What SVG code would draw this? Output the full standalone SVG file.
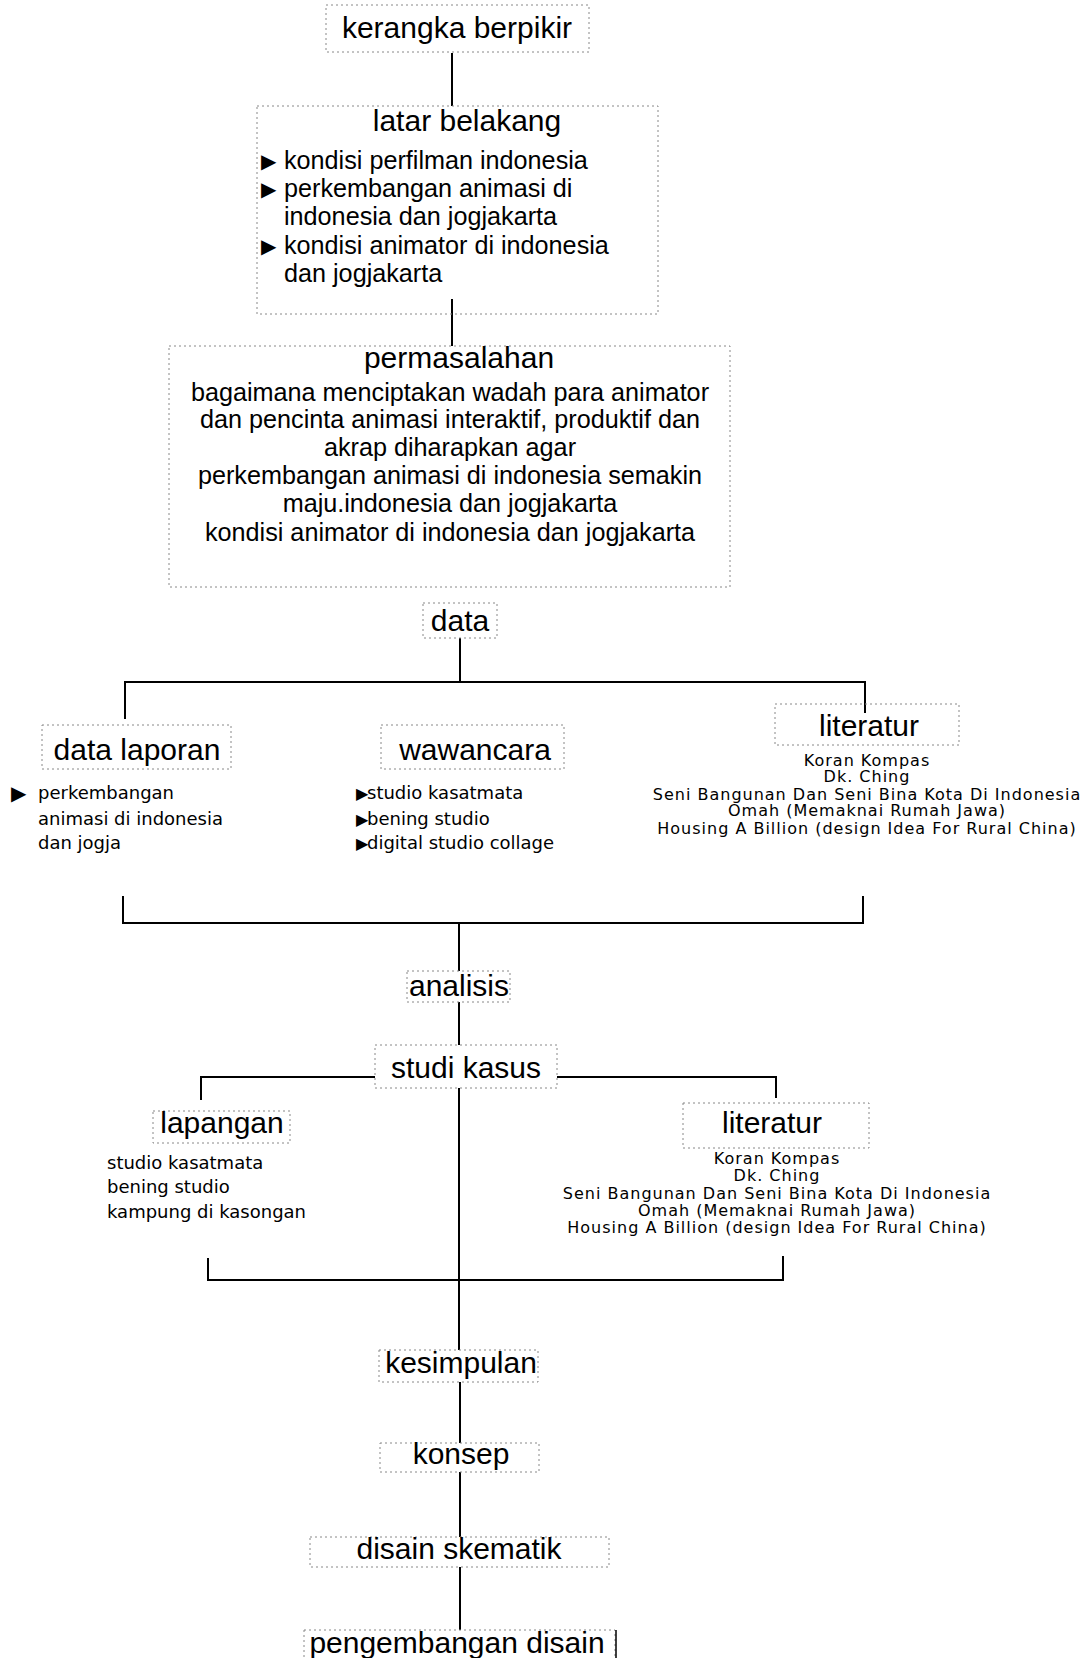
<svg xmlns="http://www.w3.org/2000/svg" width="1088" height="1658" viewBox="0 0 1088 1658">
<style>
.box{fill:none;stroke:#888;stroke-width:1;stroke-dasharray:2 3}
.h{font-family:"Liberation Sans",Arial,sans-serif;font-size:30px;fill:#000}
.b{font-family:"Liberation Sans",Arial,sans-serif;font-size:25.2px;fill:#000}
.bul{font-family:"DejaVu Sans",sans-serif;fill:#000}
.s{font-family:"DejaVu Sans",sans-serif;font-size:18px;fill:#000}
.lit{font-family:"DejaVu Sans",sans-serif;font-size:16px;letter-spacing:1px;fill:#000;text-anchor:middle}
.c{text-anchor:middle}
.con{fill:none;stroke:#000;stroke-width:2}
</style>
<rect width="1088" height="1658" fill="#fff"/>
<g id="connectors" class="con">
<path d="M452 53V106"/>
<path d="M452 299V346"/>
<path d="M460 638V682"/>
<path d="M125 719V682H865V713"/>
<path d="M123 896V923H863V896"/>
<path d="M459 923V971"/>
<path d="M459 1002V1045"/>
<path d="M201 1100V1077H375"/>
<path d="M557 1077H776V1098"/>
<path d="M459 1088V1350"/>
<path d="M208 1258V1280H783V1256"/>
<path d="M460 1382V1443"/>
<path d="M460 1472V1537"/>
<path d="M460 1567V1630"/>
</g>
<g id="kerangka">
<rect class="box" x="326" y="5" width="263" height="47"/>
<text class="h c" x="457" y="38">kerangka berpikir</text>
</g>
<g id="latar">
<rect class="box" x="257" y="106" width="401" height="208"/>
<text class="h c" x="467" y="131">latar belakang</text>
<text class="bul" x="261" y="168" font-size="20">▶</text>
<text class="bul" x="261" y="196" font-size="20">▶</text>
<text class="bul" x="261" y="253" font-size="20">▶</text>
<text class="b" x="284" y="169">kondisi perfilman indonesia</text>
<text class="b" x="284" y="197">perkembangan animasi di</text>
<text class="b" x="284" y="225">indonesia dan jogjakarta</text>
<text class="b" x="284" y="254">kondisi animator di indonesia</text>
<text class="b" x="284" y="282">dan jogjakarta</text>
</g>
<g id="permasalahan">
<rect class="box" x="169" y="346" width="561" height="241"/>
<text class="h c" x="459" y="368">permasalahan</text>
<text class="b c" x="450" y="401">bagaimana menciptakan wadah para animator</text>
<text class="b c" x="450" y="428">dan pencinta animasi interaktif, produktif dan</text>
<text class="b c" x="450" y="456">akrap diharapkan agar</text>
<text class="b c" x="450" y="484">perkembangan animasi di indonesia semakin</text>
<text class="b c" x="450" y="512">maju.indonesia dan jogjakarta</text>
<text class="b c" x="450" y="541">kondisi animator di indonesia dan jogjakarta</text>
</g>
<g id="data">
<rect class="box" x="423" y="603" width="74" height="35"/>
<text class="h c" x="460" y="631">data</text>
</g>
<g id="data-laporan">
<rect class="box" x="42" y="725" width="189" height="44"/>
<text class="h c" x="137" y="760">data laporan</text>
<text class="bul" x="11" y="800" font-size="20">▶</text>
<text class="s" x="38" y="799">perkembangan</text>
<text class="s" x="38" y="825">animasi di indonesia</text>
<text class="s" x="38" y="849">dan jogja</text>
</g>
<g id="wawancara">
<rect class="box" x="381" y="725" width="183" height="44"/>
<text class="h c" x="475" y="760">wawancara</text>
<text class="bul" x="356" y="799" font-size="16">▶</text>
<text class="bul" x="356" y="825" font-size="16">▶</text>
<text class="bul" x="356" y="849" font-size="16">▶</text>
<text class="s" x="367" y="799">studio kasatmata</text>
<text class="s" x="367" y="825">bening studio</text>
<text class="s" x="367" y="849">digital studio collage</text>
</g>
<g id="literatur-1">
<rect class="box" x="775" y="704" width="184" height="41"/>
<text class="h c" x="869" y="736">literatur</text>
<text class="lit" x="867" y="766">Koran Kompas</text>
<text class="lit" x="867" y="782">Dk. Ching</text>
<text class="lit" x="867" y="800">Seni Bangunan Dan Seni Bina Kota Di Indonesia</text>
<text class="lit" x="867" y="816">Omah (Memaknai Rumah Jawa)</text>
<text class="lit" x="867" y="834">Housing A Billion (design Idea For Rural China)</text>
</g>
<g id="analisis">
<rect class="box" x="407" y="971" width="103" height="31"/>
<text class="h c" x="459" y="996">analisis</text>
</g>
<g id="studi-kasus">
<rect class="box" x="375" y="1045" width="182" height="43"/>
<text class="h c" x="466" y="1078">studi kasus</text>
</g>
<g id="lapangan">
<rect class="box" x="153" y="1111" width="137" height="32"/>
<text class="h c" x="222" y="1133">lapangan</text>
<text class="s" x="107" y="1169" font-size="18.6">studio kasatmata</text>
<text class="s" x="107" y="1193" font-size="18.6">bening studio</text>
<text class="s" x="107" y="1218" font-size="18.6">kampung di kasongan</text>
</g>
<g id="literatur-2">
<rect class="box" x="683" y="1103" width="186" height="45"/>
<text class="h c" x="772" y="1133">literatur</text>
<text class="lit" x="777" y="1164">Koran Kompas</text>
<text class="lit" x="777" y="1181">Dk. Ching</text>
<text class="lit" x="777" y="1199">Seni Bangunan Dan Seni Bina Kota Di Indonesia</text>
<text class="lit" x="777" y="1216">Omah (Memaknai Rumah Jawa)</text>
<text class="lit" x="777" y="1233">Housing A Billion (design Idea For Rural China)</text>
</g>
<g id="kesimpulan">
<rect class="box" x="379" y="1350" width="159" height="32"/>
<text class="h c" x="461" y="1373">kesimpulan</text>
</g>
<g id="konsep">
<rect class="box" x="380" y="1443" width="159" height="29"/>
<text class="h c" x="461" y="1464">konsep</text>
</g>
<g id="disain-skematik">
<rect class="box" x="310" y="1537" width="299" height="30"/>
<text class="h c" x="459" y="1559">disain skematik</text>
</g>
<g id="pengembangan">
<rect class="box" x="304" y="1630" width="311" height="40"/>
<path d="M616 1630V1658" stroke="#000" stroke-width="1.5"/>
<text class="h c" x="457" y="1653">pengembangan disain</text>
</g>
</svg>
